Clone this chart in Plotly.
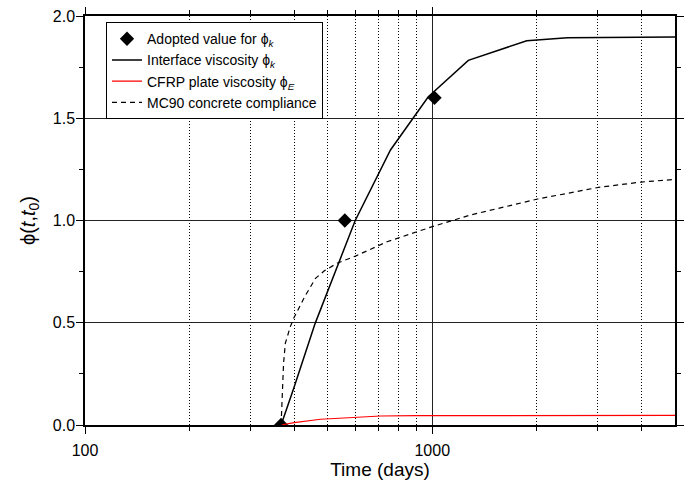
import plotly.graph_objects as go

# ---- data ----
adopted_t = [367, 560, 1015]
adopted_phi = [0.0, 1.0, 1.6]

interface_t = [367, 400, 460, 600, 758, 974, 1270, 1871, 2449, 5000]
interface_phi = [0.0, 0.185, 0.497, 1.0, 1.345, 1.605, 1.783, 1.879, 1.894, 1.897]

cfrp_t = [367, 400, 477, 601, 710, 900, 1290, 2000, 5000]
cfrp_phi = [0.0, 0.012, 0.028, 0.038, 0.044, 0.0455, 0.0465, 0.047, 0.047]

mc90_t = [367, 368, 370, 373, 377.5, 390, 399, 430, 461, 490, 532, 601, 741,
          1000, 1290, 2009, 3011, 4000, 5000]
mc90_phi = [0.0, 0.05, 0.11, 0.30, 0.40, 0.48, 0.522, 0.63, 0.717, 0.755, 0.791,
            0.826, 0.896, 0.97, 1.027, 1.105, 1.162, 1.188, 1.201]

x_major = [100, 1000]
x_major_text = ["100", "1000"]
x_minor = [200, 300, 400, 500, 600, 700, 800, 900, 2000, 3000, 4000]
y_major = [0.0, 0.5, 1.0, 1.5, 2.0]
y_minor = [0.25, 0.75, 1.25, 1.75]

FONT = "Liberation Sans, Arial, sans-serif"

fig = go.Figure()
fig.add_trace(go.Scatter(
    x=adopted_t, y=adopted_phi, mode="markers",
    name="Adopted value for ϕ<sub><i>k</i></sub>",
    marker=dict(symbol="diamond", size=11, color="black"),
))
fig.add_trace(go.Scatter(
    x=interface_t, y=interface_phi, mode="lines",
    name="Interface viscosity ϕ<sub><i>k</i></sub>",
    line=dict(color="black", width=1.5),
))
fig.add_trace(go.Scatter(
    x=cfrp_t, y=cfrp_phi, mode="lines",
    name="CFRP plate viscosity ϕ<sub><i>E</i></sub>",
    line=dict(color="red", width=1.2),
))
fig.add_trace(go.Scatter(
    x=mc90_t, y=mc90_phi, mode="lines",
    name="MC90 concrete compliance",
    line=dict(color="black", width=1.2, dash="5px,4px"),
))

fig.update_layout(
    width=696, height=481,
    margin=dict(l=85, r=21, t=16, b=56),
    paper_bgcolor="white", plot_bgcolor="white",
    font=dict(family=FONT, size=16, color="black"),
    showlegend=True,
    legend=dict(
        x=0.0356, y=0.985, xanchor="left", yanchor="top",
        bordercolor="black", borderwidth=1, bgcolor="white",
        font=dict(family=FONT, size=14, color="black"),
        itemwidth=30, tracegroupgap=0,
    ),
    xaxis=dict(
        type="log", range=[2, 3.69897], automargin=False,
        tickmode="array", tickvals=x_major, ticktext=x_major_text,
        ticks="outside", ticklen=7, tickwidth=1.2, tickcolor="black",
        ticklabelstandoff=3,
        showline=True, linecolor="black", linewidth=1.5, mirror="allticks",
        showgrid=True, gridcolor="#222", gridwidth=1,
        zeroline=False,
        tickfont=dict(size=16),
        title=dict(text="Time (days)", font=dict(size=19), standoff=4),
        minor=dict(tickmode="array", tickvals=x_minor, ticks="outside",
                   ticklen=4, tickcolor="black", tickwidth=1,
                   showgrid=True, gridcolor="black", gridwidth=1, griddash="1px,2px"),
    ),
    yaxis=dict(
        range=[0, 2.0], automargin=False,
        tickmode="array", tickvals=y_major, tickformat=".1f",
        ticks="outside", ticklen=7, tickwidth=1.2, tickcolor="black",
        ticklabelstandoff=-2,
        showline=True, linecolor="black", linewidth=1.5, mirror="allticks",
        showgrid=True, gridcolor="#222", gridwidth=1,
        zeroline=False,
        tickfont=dict(size=16),
        title=dict(text="ϕ(<i>t</i>,<i>t</i><sub>0</sub>)", font=dict(size=20), standoff=12),
        minor=dict(tickmode="array", tickvals=y_minor, ticks="outside",
                   ticklen=4, tickcolor="black", tickwidth=1, showgrid=False),
    ),
)

fig.write_html("out.html")
